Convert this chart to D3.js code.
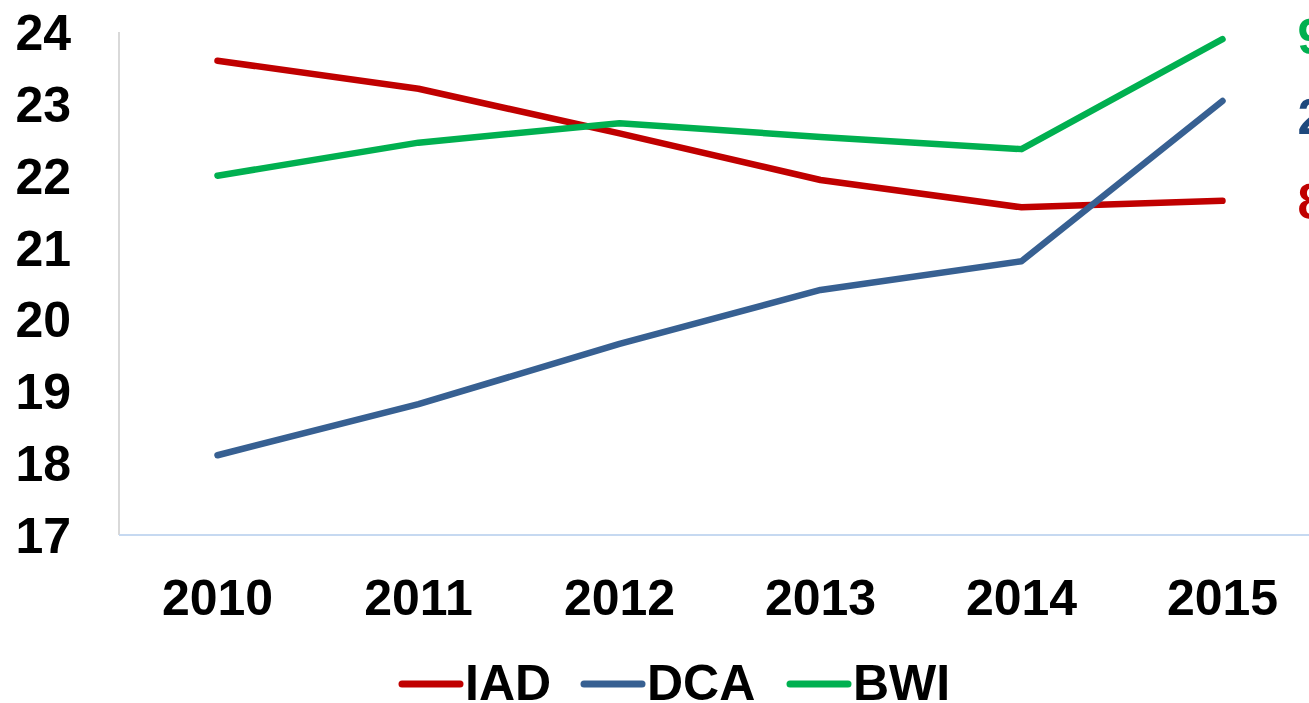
<!DOCTYPE html>
<html>
<head>
<meta charset="utf-8">
<script src="https://cdn.jsdelivr.net/npm/d3@7"></script>
<style>
  body { margin: 0; background: #fff; overflow: hidden; }
  svg { display: block; font-family: Arial, "Liberation Sans", sans-serif; }
</style>
</head>
<body>
<svg id="drawing_region"></svg>
<script>
// data
const years = ["2010", "2011", "2012", "2013", "2014", "2015"];
const yTicks = [17, 18, 19, 20, 21, 22, 23, 24];
const iad = [23.60, 23.21, 22.59, 21.94, 21.56, 21.65];
const dca = [18.11, 18.82, 19.66, 20.41, 20.81, 23.04];
const bwi = [22.00, 22.46, 22.73, 22.54, 22.37, 23.90];
const seriesNames = ["IAD", "DCA", "BWI"];
const seriesColors = ["#c00000", "#376092", "#00b050"];
const endLabels = ["8", "2", "9"];          // cut off at right edge in the original
const endLabelColors = ["#c00000", "#1f497d", "#00b050"];
const endLabelPos = [21.65, 22.83, 23.94];

const config = {
    width: 1309,
    height: 703,
    margin: {top: 32, right: -16, bottom: 168, left: 119}
};

const series = [iad, dca, bwi].map((vals, i) => ({
    name: seriesNames[i],
    color: seriesColors[i],
    values: vals.map((v, j) => ({x: years[j], y: v}))
}));

const svg = d3.select('#drawing_region')
    .attr('width', config.width)
    .attr('height', config.height);

const inner_width = config.width - config.margin.left - config.margin.right;
const inner_height = config.height - config.margin.top - config.margin.bottom;

const chart = svg.append('g')
    .attr('transform', `translate(${config.margin.left}, ${config.margin.top})`);

const xscale = d3.scalePoint()
    .domain(years)
    .range([-2, inner_width - 2])
    .padding(0.5);

const yscale = d3.scaleLinear()
    .domain([17, 24])
    .range([inner_height, 0]);

// axes lines
chart.append('line')
    .attr('x1', 0).attr('x2', 0)
    .attr('y1', 0).attr('y2', inner_height)
    .attr('stroke', '#d9d9d9')
    .attr('stroke-width', 2);

chart.append('line')
    .attr('x1', 0).attr('x2', inner_width)
    .attr('y1', inner_height).attr('y2', inner_height)
    .attr('stroke', '#c6d9f1')
    .attr('stroke-width', 2);

// y tick labels
chart.selectAll('.ytick')
    .data(yTicks)
    .enter()
    .append('text')
    .attr('class', 'ytick')
    .attr('x', -48)
    .attr('y', d => yscale(d))
    .attr('dy', '0.36em')
    .attr('text-anchor', 'end')
    .attr('font-size', '50px')
    .attr('font-weight', 'bold')
    .attr('fill', '#000')
    .text(d => d);

// x tick labels
chart.selectAll('.xtick')
    .data(years)
    .enter()
    .append('text')
    .attr('class', 'xtick')
    .attr('x', d => xscale(d))
    .attr('y', inner_height + 80)
    .attr('text-anchor', 'middle')
    .attr('font-size', '50px')
    .attr('font-weight', 'bold')
    .attr('fill', '#000')
    .text(d => d);

const line = d3.line()
    .x(d => xscale(d.x))
    .y(d => yscale(d.y));

chart.selectAll('.series')
    .data(series)
    .enter()
    .append('path')
    .attr('class', 'series')
    .attr('d', d => line(d.values))
    .attr('fill', 'none')
    .attr('stroke', d => d.color)
    .attr('stroke-width', 6.5)
    .attr('stroke-linecap', 'round')
    .attr('stroke-linejoin', 'round');

// end labels (clipped by the right edge in the original)
chart.selectAll('.endlabel')
    .data(endLabels)
    .enter()
    .append('text')
    .attr('class', 'endlabel')
    .attr('x', xscale(years[years.length - 1]) + 75)
    .attr('y', (d, i) => yscale(endLabelPos[i]))
    .attr('dy', '0.36em')
    .attr('font-size', '50px')
    .attr('font-weight', 'bold')
    .attr('fill', (d, i) => endLabelColors[i])
    .text(d => d);

// legend
const legendX = [402, 584, 790];
const legend = svg.append('g');
series.forEach((s, i) => {
    legend.append('line')
        .attr('x1', legendX[i]).attr('x2', legendX[i] + 58)
        .attr('y1', 684).attr('y2', 684)
        .attr('stroke', s.color)
        .attr('stroke-width', 7)
        .attr('stroke-linecap', 'round');
    legend.append('text')
        .attr('x', legendX[i] + 63)
        .attr('y', 700)
        .attr('font-size', '50px')
        .attr('font-weight', 'bold')
        .attr('fill', '#000')
        .text(s.name);
});
</script>
</body>
</html>
